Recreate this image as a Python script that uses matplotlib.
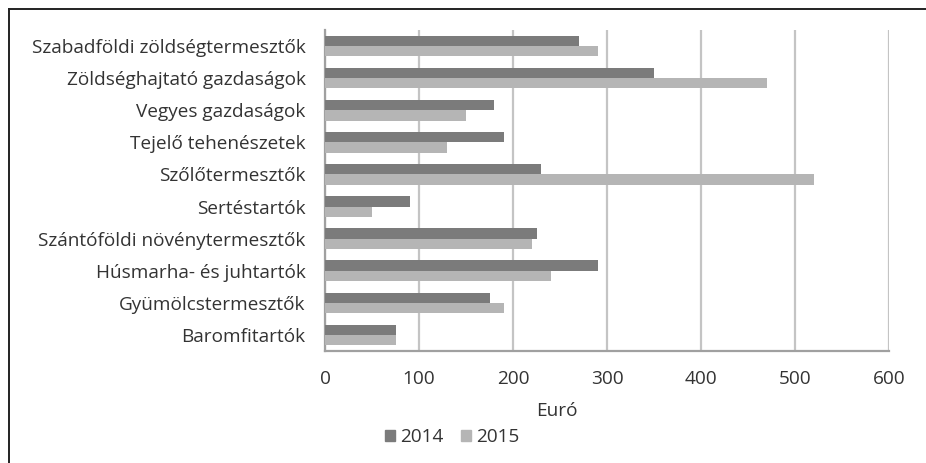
import numpy as np
import matplotlib
matplotlib.use('Agg')
import matplotlib.pyplot as plt
from matplotlib.patches import Patch
from matplotlib.lines import Line2D

plt.rcParams['font.family'] = ['Open Sans', 'DejaVu Sans']

# Data (top to bottom as shown in the chart)
categories = ['Szabadföldi zöldségtermesztők', 'Zöldséghajtató gazdaságok',
              'Vegyes gazdaságok', 'Tejelő tehenészetek', 'Szőlőtermesztők',
              'Sertéstartók', 'Szántóföldi növénytermesztők',
              'Húsmarha- és juhtartók', 'Gyümölcstermesztők', 'Baromfitartók']
values_2014 = [270, 350, 180, 190, 230, 90, 225, 290, 175, 75]
values_2015 = [290, 470, 150, 130, 520, 50, 220, 240, 190, 75]
series_labels = ['2014', '2015']
xticks = [0, 100, 200, 300, 400, 500, 600]

c2014 = '#7b7b7b'
c2015 = '#b5b5b5'
text_color = '#333333'
fs = 13.7

fig = plt.figure(figsize=(9.26, 4.63), dpi=100)
W, H = 926, 463
ax = fig.add_axes([325 / W, 1 - 351 / H, (889 - 325) / W, (351 - 30) / H])

y = np.arange(len(categories))
h = 0.32
ax.barh(y - h / 2, values_2014, height=h, color=c2014, zorder=3)
ax.barh(y + h / 2, values_2015, height=h, color=c2015, zorder=3)

ax.set_ylim(len(categories) - 0.5, -0.5)
ax.set_xlim(0, 600)
ax.set_xticks(xticks)
ax.set_xticklabels([str(t) for t in xticks], fontsize=fs, color=text_color)
ax.set_yticks(y)
ax.set_yticklabels(categories, fontsize=fs, color=text_color)
ax.tick_params(axis='x', length=0, pad=14)
ax.tick_params(axis='y', length=0, pad=14)

ax.grid(axis='x', color='#c4c4c4', linewidth=1.6, zorder=0)
for s in ['top', 'right']:
    ax.spines[s].set_visible(False)
ax.spines['left'].set_color('#a0a0a0')
ax.spines['left'].set_linewidth(1.6)
ax.spines['bottom'].set_color('#a0a0a0')
ax.spines['bottom'].set_linewidth(1.6)

fig.text(557 / W, 1 - 411 / H, 'Euró', fontsize=fs, color=text_color,
         ha='center', va='center')

handles = [Patch(color=c2014), Patch(color=c2015)]
fig.legend(handles, series_labels, loc='center', bbox_to_anchor=(452 / W, 1 - 437 / H),
           ncol=2, frameon=False, fontsize=fs, handlelength=0.55, handleheight=0.55,
           handletextpad=0.25, columnspacing=0.9, labelcolor=text_color)

# partial outer frame (top and left edges)
fig.add_artist(Line2D([9 / W, 1], [1 - 9 / H, 1 - 9 / H], color='#222222', linewidth=1.4,
                      transform=fig.transFigure))
fig.add_artist(Line2D([9 / W, 9 / W], [0, 1 - 9 / H], color='#222222', linewidth=1.4,
                      transform=fig.transFigure))

fig.savefig('out.png', dpi=100)
